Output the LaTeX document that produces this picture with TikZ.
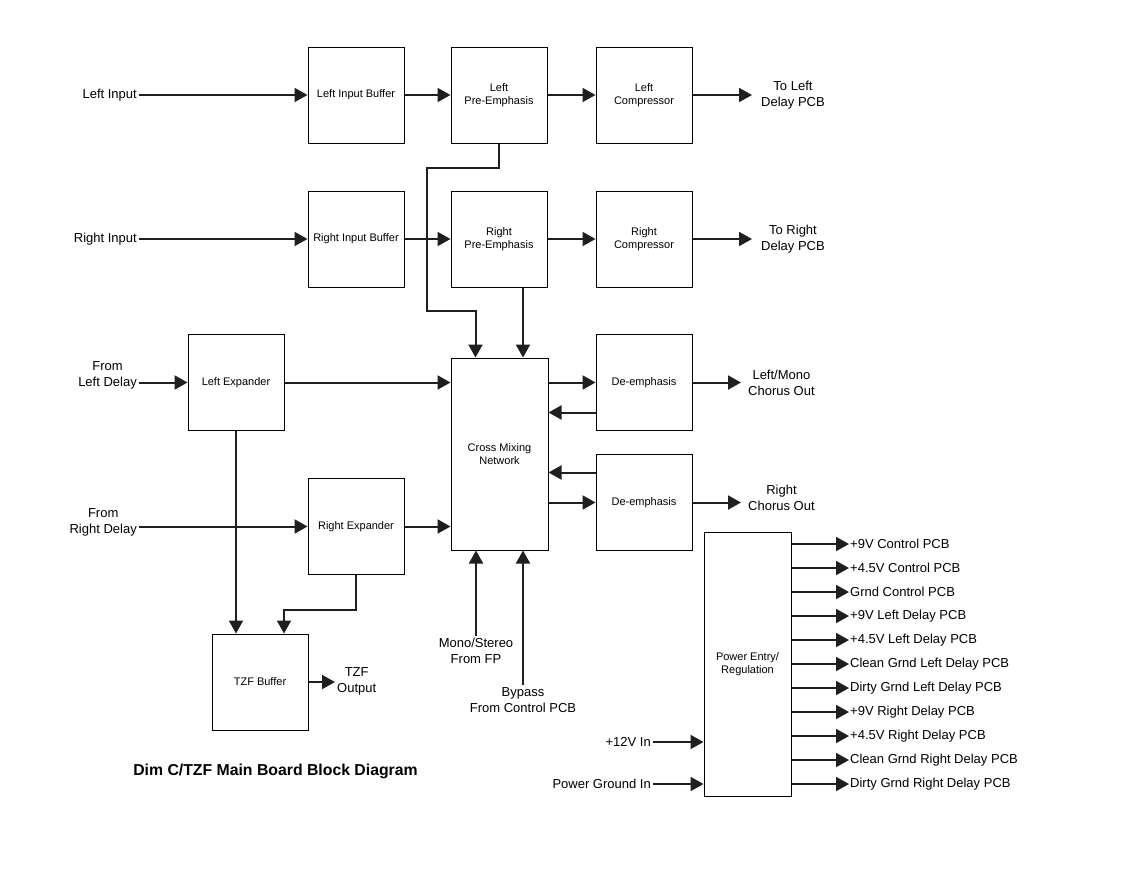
\documentclass[tikz,border=0pt]{standalone}
\usepackage{fontspec}
\setmainfont{Liberation Sans}
\usetikzlibrary{arrows.meta}
\tikzset{
  blk/.style={draw, line width=1pt, minimum width=96pt, minimum height=96pt, align=center, inner sep=1pt, font=\fontsize{11}{13}\selectfont},
  txt/.style={align=center, inner sep=2pt, font=\fontsize{13}{16}\selectfont},
  sig/.style={line width=2pt, draw=black!88, -{Triangle[length=13pt,width=14pt]}},
}

\begin{document}
\begin{tikzpicture}[x=1pt,y=-1pt]
        \useasboundingbox (0,0) rectangle (1132,873);

        \node[blk] (lib) at (356,95) {Left Input Buffer};
        \node[blk] (lpe) at (499,95) {Left\\Pre-Emphasis};
        \node[blk] (lc) at (644,95) {Left\\Compressor};
        \node[blk] (rib) at (356,239) {Right Input Buffer};
        \node[blk] (rpe) at (499,239) {Right\\Pre-Emphasis};
        \node[blk] (rc) at (644,239) {Right\\Compressor};
        \node[blk] (le) at (236,382.5) {Left Expander};
        \node[blk] (re) at (356,526.5) {Right Expander};
        \node[blk, minimum width=97pt, minimum height=192pt] (cmn) at (499.5,454) {Cross Mixing\\Network};
        \node[blk] (de1) at (644,382.5) {De-emphasis};
        \node[blk] (de2) at (644,502.5) {De-emphasis};
        \node[blk] (tzf) at (260,682) {TZF Buffer};
        \node[blk, minimum width=87pt, minimum height=264pt] (pwr) at (747.5,664) {Power Entry/\\Regulation};

        \node[txt, anchor=east] (lin) at (139,95) {Left Input};
        \node[txt, anchor=east] (rin) at (139,239) {Right Input};
        \node[txt, anchor=east] (fld) at (139,375) {From\\Left Delay};
        \node[txt, anchor=east] (frd) at (139,522) {From\\Right Delay};
        \node[txt, anchor=west] (tol) at (759,95) {To Left\\Delay PCB};
        \node[txt, anchor=west] (tor) at (759,239) {To Right\\Delay PCB};
        \node[txt, anchor=west] (lco) at (746,382.5) {Left/Mono\\Chorus Out};
        \node[txt, anchor=west] (rco) at (746,498) {Right\\Chorus Out};
        \node[txt, anchor=west] (tzo) at (335,681) {TZF\\Output};
        \node[txt, anchor=north] (mst) at (476,636) {Mono/Stereo\\From FP};
        \node[txt, anchor=north] (byp) at (523,685) {Bypass\\From Control PCB};
        \node[txt, anchor=east] (v12) at (653,742) {+12V In};
        \node[txt, anchor=east] (pgi) at (653,784) {Power Ground In};
        \node[font=\fontsize{15.8}{19}\selectfont\bfseries] (title) at (275.5,771) {Dim C/TZF Main Board Block Diagram};

        \draw[sig] (lin) -- (lib);
        \draw[sig] (lib) -- (lpe);
        \draw[sig] (lpe) -- (lc);
        \draw[sig, shorten >=7pt] (lc.east) -- (tol.west);
        \draw[sig] (rin) -- (rib);
        \draw[sig] (rib) -- (rpe);
        \draw[sig] (rpe) -- (rc);
        \draw[sig, shorten >=7pt] (rc.east) -- (tor.west);

        \draw[sig] (lpe.south) -- ++(0,24) -- ++(-72,0) -- ++(0,143) -| ([xshift=-24pt]cmn.north);
        \draw[sig] ([xshift=24pt]rpe.south) -- ([xshift=24pt]rpe.south |- cmn.north);

        \draw[sig] (fld.east |- le.west) -- (le.west);
        \draw[sig] (le.east) -- (le.east -| cmn.west);
        \draw[sig] (frd.east |- re.west) -- (re.west);
        \draw[sig] (re.east) -- (re.east -| cmn.west);

        \draw[sig] (le.south) -- (le.south |- tzf.north);
        \draw[sig] (re.south) -- ++(0,35) -| ([xshift=24pt]tzf.north);
        \draw[sig] (tzf.east) -- (tzf.east -| tzo.west);

        \draw[sig] (de1.west -| cmn.east) -- (de1.west);
        \draw[sig] ([yshift=-30pt]de1.west) -- ([yshift=-30pt]de1.west -| cmn.east);
        \draw[sig] ([yshift=30pt]de2.west) -- ([yshift=30pt]de2.west -| cmn.east);
        \draw[sig] (de2.west -| cmn.east) -- (de2.west);
        \draw[sig, shorten >=5pt] (de1.east) -- (lco.west);
        \draw[sig, shorten >=5pt] (de2.east) -- (de2.east -| rco.west);

        \draw[sig] (mst.north) -- (mst.north |- cmn.south);
        \draw[sig] (byp.north) -- (byp.north |- cmn.south);

        \draw[sig] (v12.east) -- (v12.east -| pwr.west);
        \draw[sig] (pgi.east) -- (pgi.east -| pwr.west);

        \foreach \y/\lab [count=\i] in {544/+9V Control PCB, 568/+4.5V Control PCB, 592/Grnd Control PCB,
            616/+9V Left Delay PCB, 640/+4.5V Left Delay PCB, 664/Clean Grnd Left Delay PCB,
            688/Dirty Grnd Left Delay PCB, 712/+9V Right Delay PCB, 736/+4.5V Right Delay PCB,
            760/Clean Grnd Right Delay PCB, 784/Dirty Grnd Right Delay PCB} {
            \node[txt, anchor=west, inner sep=1pt] (out\i) at (849,\y) {\lab};
            \draw[sig] (pwr.east |- out\i.west) -- (out\i.west);
        }
    \end{tikzpicture}
\end{document}
